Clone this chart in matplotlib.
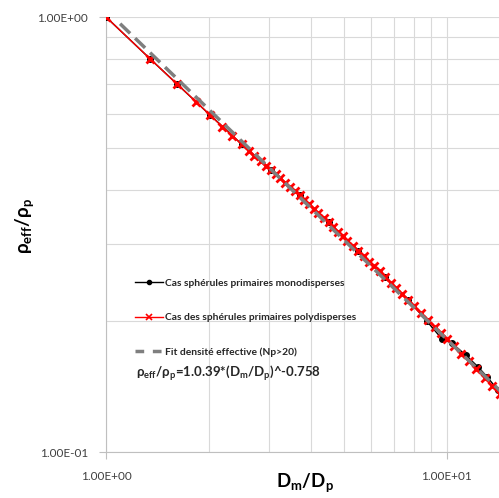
import matplotlib
matplotlib.use('Agg')
import matplotlib.pyplot as plt
from matplotlib.ticker import LogLocator, NullFormatter, FixedLocator, FixedFormatter
from matplotlib.lines import Line2D

plt.rcParams['font.family'] = ['Lato', 'DejaVu Sans']
plt.rcParams['mathtext.fontset'] = 'custom'
plt.rcParams['mathtext.rm'] = 'Lato'
plt.rcParams['mathtext.bf'] = 'Lato:bold'
plt.rcParams['mathtext.it'] = 'Lato:italic'

# polydisperse primary spheres (red)
poly_x = [1.00, 1.35, 1.62, 1.84, 2.02, 2.19, 2.35, 2.50, 2.62, 2.72, 2.85, 2.95,
          3.05, 3.15, 3.25, 3.36, 3.47, 3.58, 3.70, 3.82, 3.95, 4.08, 4.20, 4.35,
          4.50, 4.65, 4.80, 4.95, 5.10, 5.30, 5.50, 5.70, 5.90, 6.10, 6.35, 6.60,
          6.85, 7.10, 7.40, 7.70, 8.00, 8.40, 8.80, 9.20, 9.60, 10.0, 10.5, 11.0,
          11.6, 12.2, 12.9, 13.6, 14.3]
poly_y = [1.000, 0.800, 0.700, 0.638, 0.595, 0.560, 0.533, 0.510, 0.493, 0.480, 0.466, 0.455,
          0.445, 0.435, 0.426, 0.416, 0.407, 0.398, 0.389, 0.380, 0.371, 0.362, 0.354, 0.345,
          0.337, 0.329, 0.321, 0.313, 0.306, 0.298, 0.290, 0.282, 0.274, 0.268, 0.260, 0.252,
          0.245, 0.238, 0.231, 0.224, 0.217, 0.209, 0.201, 0.194, 0.188, 0.182, 0.175, 0.168,
          0.162, 0.155, 0.148, 0.142, 0.136]

# monodisperse primary spheres (black)
mono_x = [1.00, 1.35, 1.62, 2.02, 2.50, 3.05, 3.70, 4.50, 5.50, 6.60, 7.70, 8.73, 9.67,
          10.34, 11.37, 12.34, 13.11, 14.1]
mono_y = [1.000, 0.800, 0.700, 0.595, 0.510, 0.445, 0.389, 0.337, 0.290, 0.252, 0.224,
          0.200, 0.182, 0.178, 0.167, 0.157, 0.149, 0.139]

# effective density fit (Np>20): 1.039*(Dm/Dp)^-0.758
fit_x = [1.1, 14.5]
fit_y = [0.965, 0.137]

fig = plt.figure(figsize=(4.99, 4.98), dpi=100)
ax = fig.add_axes([106 / 499, 46 / 498, 1 - 106 / 499 + 0.002, (452 - 17) / 498])

ax.plot(mono_x, mono_y, color='black', marker='o', markersize=4, linewidth=1, zorder=3)
ax.plot(poly_x, poly_y, color='red', marker='x', markersize=5.5, markeredgewidth=2,
        linewidth=1, zorder=4)
ax.plot(fit_x, fit_y, color='#7f7f7f', linestyle=(0, (4, 2)), linewidth=2.5, zorder=5)

ax.set_xscale('log')
ax.set_yscale('log')
ax.set_xlim(1, 14.32)
ax.set_ylim(0.1, 1)

ax.xaxis.set_major_locator(FixedLocator([1, 10]))
ax.xaxis.set_major_formatter(FixedFormatter(['1.00E+00', '1.00E+01']))
ax.xaxis.set_minor_locator(LogLocator(base=10, subs=range(2, 10)))
ax.xaxis.set_minor_formatter(NullFormatter())
ax.yaxis.set_major_locator(FixedLocator([0.1, 1]))
ax.yaxis.set_major_formatter(FixedFormatter(['1.00E-01', '1.00E+00']))
ax.yaxis.set_minor_locator(LogLocator(base=10, subs=range(2, 10)))
ax.yaxis.set_minor_formatter(NullFormatter())

ax.grid(True, which='both', color='#d9d9d9', linewidth=0.8)
ax.tick_params(which='minor', length=0)
ax.tick_params(which='major', length=5, color='#bfbfbf', labelsize=8.5, labelcolor='#404040')
ax.tick_params(axis='x', which='major', pad=9)
ax.tick_params(axis='y', which='major', pad=8)
for side in ['top', 'right']:
    ax.spines[side].set_visible(False)
for side in ['left', 'bottom']:
    ax.spines[side].set_color('#bfbfbf')

ax.set_xlabel(r'$\mathbf{D_m/D_p}$', fontsize=13.5)
ax.set_ylabel(r'$\mathbf{\rho_{eff}/\rho_p}$', fontsize=13.5)
ax.xaxis.set_label_coords((305 - 106) / 393, -19 / 435)
ax.yaxis.set_label_coords(-70 / 393, (452 - 226) / 435)

handles = [
    Line2D([], [], color='black', marker='o', markersize=3, linewidth=1),
    Line2D([], [], color='red', marker='x', markersize=4, markeredgewidth=1.2, linewidth=1),
    Line2D([], [], color='#7f7f7f', linestyle=(0, (2.5, 2.5)), linewidth=2.5),
]
labels = ['Cas sphérules primaires monodisperses',
          'Cas des sphérules primaires polydisperses',
          'Fit densité effective (Np>20)']
leg = ax.legend(handles, labels, loc='upper left', bbox_to_anchor=(0.05, 0.42),
                frameon=False, prop={'size': 7.4, 'weight': 'bold'},
                handlelength=2.7, handletextpad=0.2, labelspacing=2.45)
for t in leg.get_texts():
    t.set_color('#262626')

fig.text(136 / 499, 1 - 373 / 498, r'$\mathbf{\rho_{eff}/\rho_p}$=1.0.39*($\mathbf{D_m/D_p}$)^-0.758',
         fontsize=9.5, fontweight='bold', color='#262626', va='center')

fig.savefig('out.png', dpi=100)
